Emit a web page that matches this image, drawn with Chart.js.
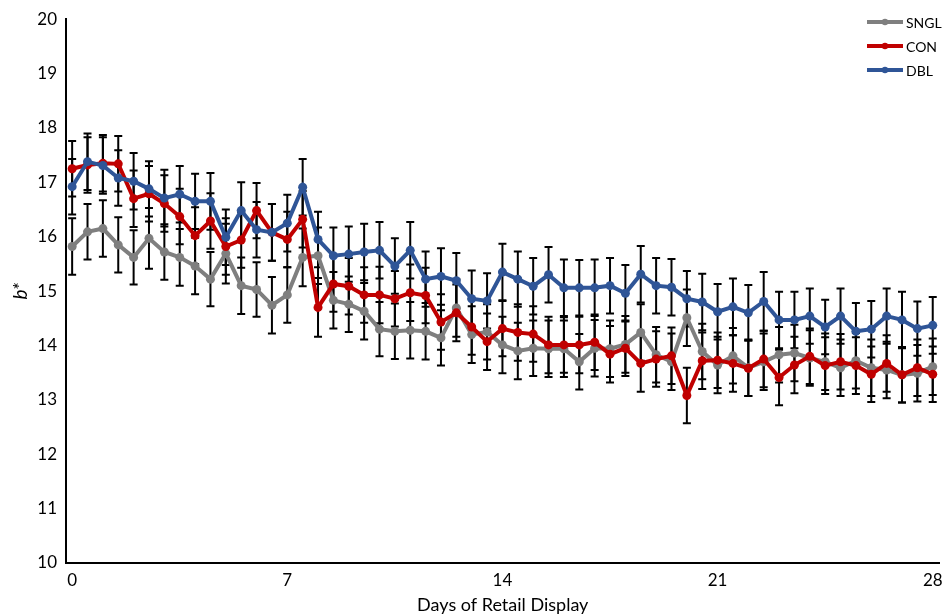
<!DOCTYPE html>
<html>
<head>
<meta charset="utf-8">
<script src="https://cdn.jsdelivr.net/npm/chart.js@4.4.0/dist/chart.umd.min.js"></script>
<style>
html, body { margin: 0; padding: 0; background: #fff; }
</style>
</head>
<body>
<canvas id="lineChart" width="944" height="616"></canvas>
<script>
const CHART = document.getElementById("lineChart");

// days of retail display (every 12 h)
var days = [0, 0.5, 1, 1.5, 2, 2.5, 3, 3.5, 4, 4.5,
  5, 5.5, 6, 6.5, 7, 7.5, 8, 8.5, 9, 9.5,
  10, 10.5, 11, 11.5, 12, 12.5, 13, 13.5, 14, 14.5,
  15, 15.5, 16, 16.5, 17, 17.5, 18, 18.5, 19, 19.5,
  20, 20.5, 21, 21.5, 22, 22.5, 23, 23.5, 24, 24.5,
  25, 25.5, 26, 26.5, 27, 27.5, 28];
var tickDays = [0, 7, 14, 21, 28];

var sngl = [15.82, 16.09, 16.15, 15.85, 15.62, 15.97, 15.72, 15.62, 15.46, 15.22,
  15.69, 15.10, 15.03, 14.74, 14.93, 15.62, 15.65, 14.83, 14.76, 14.63,
  14.30, 14.26, 14.28, 14.26, 14.14, 14.69, 14.20, 14.25, 14.01, 13.90,
  13.95, 13.94, 13.94, 13.70, 13.95, 13.94, 14.02, 14.24, 13.83, 13.70,
  14.51, 13.89, 13.64, 13.81, 13.59, 13.70, 13.83, 13.86, 13.77, 13.70,
  13.59, 13.72, 13.59, 13.55, 13.46, 13.49, 13.61];
var con = [17.25, 17.32, 17.35, 17.34, 16.70, 16.79, 16.61, 16.37, 16.02, 16.29,
  15.82, 15.94, 16.48, 16.08, 15.95, 16.32, 14.70, 15.13, 15.09, 14.93,
  14.93, 14.86, 14.97, 14.92, 14.43, 14.60, 14.34, 14.07, 14.31, 14.24,
  14.21, 14.01, 14.01, 14.01, 14.06, 13.84, 13.95, 13.67, 13.75, 13.81,
  13.08, 13.72, 13.73, 13.67, 13.58, 13.75, 13.41, 13.64, 13.80, 13.63,
  13.70, 13.63, 13.47, 13.67, 13.46, 13.59, 13.47];
var dbl = [16.92, 17.38, 17.31, 17.08, 17.02, 16.88, 16.71, 16.78, 16.65, 16.65,
  15.99, 16.48, 16.13, 16.08, 16.25, 16.91, 15.95, 15.65, 15.68, 15.72,
  15.75, 15.46, 15.75, 15.22, 15.27, 15.19, 14.86, 14.82, 15.35, 15.22,
  15.09, 15.30, 15.06, 15.06, 15.06, 15.10, 14.96, 15.31, 15.10, 15.07,
  14.86, 14.80, 14.62, 14.71, 14.60, 14.81, 14.47, 14.47, 14.54, 14.34,
  14.54, 14.26, 14.30, 14.54, 14.47, 14.31, 14.37];

// standard errors
var snglErr = [0.52, 0.51, 0.52, 0.51, 0.50, 0.56, 0.51, 0.52, 0.52, 0.50,
  0.55, 0.52, 0.50, 0.52, 0.51, 0.53, 0.52, 0.52, 0.51, 0.52,
  0.50, 0.51, 0.52, 0.52, 0.51, 0.53, 0.52, 0.51, 0.52, 0.52,
  0.51, 0.52, 0.52, 0.51, 0.52, 0.52, 0.52, 0.52, 0.51, 0.52,
  0.52, 0.51, 0.52, 0.51, 0.52, 0.52, 0.51, 0.52, 0.51, 0.52,
  0.52, 0.51, 0.52, 0.52, 0.51, 0.52, 0.52];
var conErr = [0.51, 0.51, 0.52, 0.51, 0.52, 0.51, 0.52, 0.51, 0.52, 0.51,
  0.52, 0.51, 0.51, 0.52, 0.51, 0.52, 0.54, 0.51, 0.52, 0.51,
  0.52, 0.51, 0.52, 0.51, 0.51, 0.52, 0.51, 0.52, 0.51, 0.52,
  0.51, 0.52, 0.51, 0.52, 0.51, 0.52, 0.51, 0.52, 0.51, 0.52,
  0.51, 0.52, 0.51, 0.52, 0.51, 0.52, 0.51, 0.52, 0.51, 0.52,
  0.51, 0.52, 0.51, 0.52, 0.51, 0.52, 0.51];
var dblErr = [0.51, 0.52, 0.52, 0.51, 0.52, 0.51, 0.52, 0.52, 0.51, 0.52,
  0.51, 0.52, 0.51, 0.52, 0.52, 0.52, 0.51, 0.52, 0.51, 0.52,
  0.52, 0.51, 0.52, 0.51, 0.52, 0.51, 0.52, 0.51, 0.52, 0.51,
  0.52, 0.51, 0.52, 0.51, 0.52, 0.51, 0.52, 0.52, 0.51, 0.52,
  0.51, 0.52, 0.51, 0.52, 0.51, 0.54, 0.52, 0.52, 0.51, 0.50,
  0.51, 0.52, 0.52, 0.51, 0.52, 0.50, 0.52];

var series = [
  { label: "SNGL", values: sngl, err: snglErr, color: "#7f7f7f" },
  { label: "CON", values: con, err: conErr, color: "#c00000" },
  { label: "DBL", values: dbl, err: dblErr, color: "#2f5597" }
];

function toPoints(vals) {
  return days.map(function(d, i) { return { x: d, y: vals[i] }; });
}

var FONT = "Lato";

// black error bars under the lines
var errorBars = {
  id: "errorBars",
  beforeDatasetsDraw: function(chart) {
    var ctx = chart.ctx;
    var xs = chart.scales.x, ys = chart.scales.y;
    ctx.save();
    ctx.strokeStyle = "#000";
    ctx.lineWidth = 2;
    chart.data.datasets.forEach(function(ds) {
      ds.data.forEach(function(p, i) {
        var e = ds.err[i];
        var x = xs.getPixelForValue(p.x);
        var t = ys.getPixelForValue(p.y + e);
        var b = ys.getPixelForValue(p.y - e);
        ctx.beginPath();
        ctx.moveTo(x, t); ctx.lineTo(x, b);
        ctx.moveTo(x - 4, t); ctx.lineTo(x + 4, t);
        ctx.moveTo(x - 4, b); ctx.lineTo(x + 4, b);
        ctx.stroke();
      });
    });
    ctx.restore();
  }
};

// excel style legend, top right
var legendBox = {
  id: "legendBox",
  afterDraw: function(chart) {
    var ctx = chart.ctx;
    ctx.save();
    series.forEach(function(s, i) {
      var y = 22 + i * 24;
      ctx.strokeStyle = s.color;
      ctx.lineWidth = 4;
      ctx.beginPath();
      ctx.moveTo(867, y); ctx.lineTo(903, y);
      ctx.stroke();
      ctx.fillStyle = s.color;
      ctx.beginPath();
      ctx.arc(885, y, 3.2, 0, Math.PI * 2);
      ctx.fill();
      ctx.fillStyle = "#000";
      ctx.font = "14px " + FONT;
      ctx.textBaseline = "middle";
      ctx.fillText(s.label, 906, y + 1);
    });
    ctx.restore();
  }
};

let lineChart = new Chart(CHART, {
  type: "line",
  data: {
    datasets: series.map(function(s, i) {
      return {
        label: s.label,
        data: toPoints(s.values),
        err: s.err,
        borderColor: s.color,
        backgroundColor: s.color,
        pointBackgroundColor: s.color,
        pointBorderColor: s.color,
        pointRadius: 4.5,
        pointBorderWidth: 0,
        borderWidth: 4,
        lineTension: 0,
        fill: false,
        order: 3 - i
      };
    })
  },
  options: {
    responsive: false,
    animation: false,
    events: [],
    layout: { padding: { top: 15, right: 4, left: 0, bottom: 0 } },
    plugins: {
      legend: { display: false },
      tooltip: { enabled: false }
    },
    scales: {
      x: {
        type: "linear",
        min: -0.2,
        max: 28.22,
        afterBuildTicks: function(scale) {
          scale.ticks = tickDays.map(function(v) { return { value: v }; });
        },
        afterFit: function(scale) {
          scale.height = 53;
          scale.paddingLeft = 0;
          scale.paddingRight = 0;
        },
        grid: { drawOnChartArea: false, drawTicks: false },
        border: { color: "#000", width: 2 },
        ticks: { color: "#000", font: { family: FONT, size: 17 }, padding: 7, maxRotation: 0 },
        title: {
          display: true,
          text: "Days of Retail Display",
          color: "#000",
          font: { family: FONT, size: 18 },
          padding: { top: 0, bottom: 0 }
        }
      },
      y: {
        min: 10,
        max: 20,
        afterFit: function(scale) { scale.width = 66; },
        grid: { drawOnChartArea: false, drawTicks: false },
        border: { color: "#000", width: 2 },
        ticks: { stepSize: 1, color: "#000", font: { family: FONT, size: 17 }, padding: 9 },
        title: {
          display: true,
          text: "b*",
          color: "#000",
          font: { family: FONT, size: 19, style: "italic" },
          padding: { top: 9, bottom: 0 }
        }
      }
    }
  },
  plugins: [errorBars, legendBox]
});
</script>
</body>
</html>
